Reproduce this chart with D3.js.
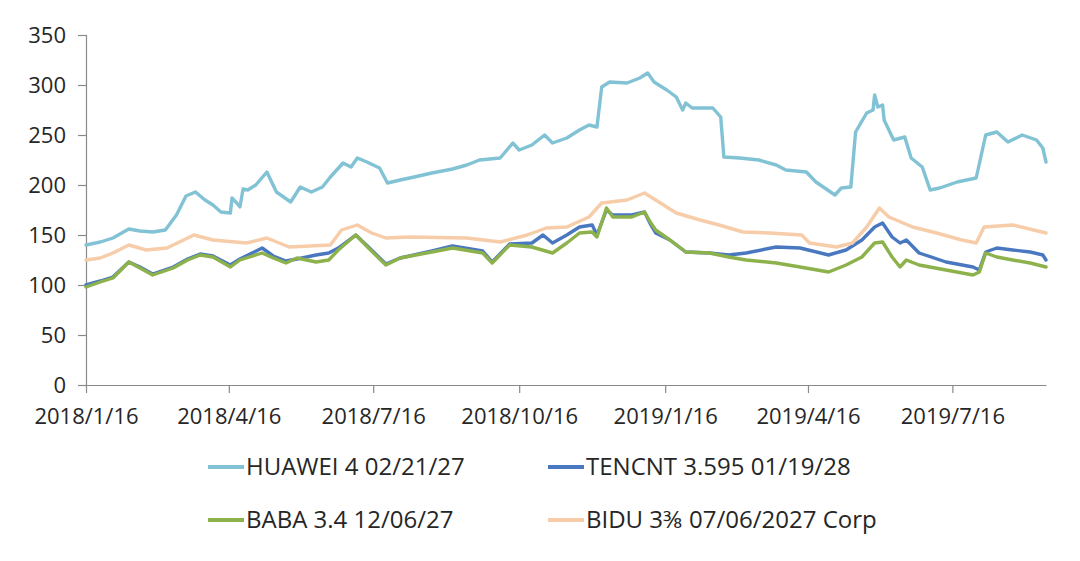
<!DOCTYPE html>
<html>
<head>
<meta charset="utf-8">
<script src="https://cdn.jsdelivr.net/npm/d3@7"></script>
<style>
  html, body { margin: 0; padding: 0; background: #ffffff; }
  svg { display: block; }
  text { font-family: "Open Sans", "DejaVu Sans", sans-serif; fill: #262626; }
</style>
</head>
<body>
<svg id="chart" width="1080" height="561"></svg>
<script>
// ---------- DATA ----------
const yTicks = [0, 50, 100, 150, 200, 250, 300, 350];
const xTickLabels = ["2018/1/16", "2018/4/16", "2018/7/16", "2018/10/16", "2019/1/16", "2019/4/16", "2019/7/16"];
const dateDomain = ["2018/1/16", "2019/9/13"];
const seriesNames = ["HUAWEI 4 02/21/27", "TENCNT 3.595 01/19/28", "BABA 3.4 12/06/27", "BIDU 3\u215C 07/06/2027 Corp"];

const huawei = [
  ["2018-01-16",140],["2018-01-25",143],["2018-02-02",147],["2018-02-12",156],["2018-02-19",154],
  ["2018-02-27",153],["2018-03-07",155],["2018-03-14",170],["2018-03-20",189],["2018-03-26",193],
  ["2018-04-01",185],["2018-04-06",180],["2018-04-11",173],["2018-04-17",172],["2018-04-18",187],
  ["2018-04-21",182],["2018-04-23",178],["2018-04-25",196],["2018-04-28",195],["2018-05-03",200],
  ["2018-05-10",213],["2018-05-16",193],["2018-05-25",183],["2018-05-31",198],["2018-06-07",193],
  ["2018-06-14",198],["2018-06-19",208],["2018-06-27",222],["2018-07-02",218],["2018-07-06",227],
  ["2018-07-12",223],["2018-07-20",217],["2018-07-25",202],["2018-08-02",205],["2018-08-08",207],
  ["2018-08-22",212],["2018-09-04",216],["2018-09-13",220],["2018-09-21",225],["2018-10-04",227],
  ["2018-10-12",242],["2018-10-16",235],["2018-10-24",240],["2018-11-01",250],["2018-11-06",242],
  ["2018-11-15",247],["2018-11-23",255],["2018-11-29",260],["2018-12-04",258],["2018-12-07",298],
  ["2018-12-12",303],["2018-12-23",302],["2018-12-31",307],["2019-01-05",312],["2019-01-09",303],
  ["2019-01-17",295],["2019-01-23",288],["2019-01-27",275],["2019-01-29",282],["2019-02-02",277],
  ["2019-02-15",277],["2019-02-20",268],["2019-02-22",228],["2019-03-04",227],["2019-03-16",225],
  ["2019-03-27",220],["2019-04-02",215],["2019-04-15",213],["2019-04-21",203],["2019-05-03",190],
  ["2019-05-07",197],["2019-05-13",198],["2019-05-16",253],["2019-05-23",272],["2019-05-27",275],
  ["2019-05-28",290],["2019-05-30",278],["2019-06-02",280],["2019-06-03",265],["2019-06-09",245],
  ["2019-06-16",248],["2019-06-20",227],["2019-06-27",218],["2019-07-02",195],["2019-07-08",197],
  ["2019-07-19",203],["2019-07-31",207],["2019-08-06",250],["2019-08-13",253],["2019-08-20",243],
  ["2019-08-29",250],["2019-09-07",245],["2019-09-11",237],["2019-09-13",223]
];

const tencnt = [
  ["2018-01-16",100],["2018-01-25",104],["2018-02-02",108],["2018-02-12",123],["2018-02-19",118],
  ["2018-02-27",111],["2018-03-12",118],["2018-03-21",126],["2018-03-29",131],["2018-04-06",129],
  ["2018-04-17",120],["2018-04-23",126],["2018-05-07",137],["2018-05-14",129],["2018-05-22",124],
  ["2018-05-29",126],["2018-06-10",130],["2018-06-18",132],["2018-06-24",137],["2018-07-05",150],
  ["2018-07-13",138],["2018-07-24",121],["2018-08-02",127],["2018-08-22",134],["2018-09-04",139],
  ["2018-09-23",134],["2018-09-29",123],["2018-10-10",141],["2018-10-24",142],["2018-10-31",150],
  ["2018-11-06",142],["2018-11-15",150],["2018-11-23",158],["2018-12-01",160],["2018-12-04",150],
  ["2018-12-10",175],["2018-12-14",170],["2018-12-26",170],["2019-01-03",173],["2019-01-07",160],
  ["2019-01-10",152],["2019-01-19",145],["2019-01-29",133],["2019-02-13",132],["2019-02-25",130],
  ["2019-03-08",132],["2019-03-27",138],["2019-04-11",137],["2019-04-29",130],["2019-05-10",135],
  ["2019-05-20",145],["2019-05-28",158],["2019-06-02",162],["2019-06-08",148],["2019-06-13",142],
  ["2019-06-17",145],["2019-06-25",132],["2019-07-12",123],["2019-07-29",118],["2019-08-02",115],
  ["2019-08-06",133],["2019-08-13",137],["2019-08-23",135],["2019-09-03",133],["2019-09-11",130],
  ["2019-09-13",125]
];

const baba = [
  ["2018-01-16",98],["2018-01-25",103],["2018-02-02",107],["2018-02-12",123],["2018-02-19",117],
  ["2018-02-27",110],["2018-03-12",117],["2018-03-21",125],["2018-03-29",130],["2018-04-06",128],
  ["2018-04-17",118],["2018-04-23",125],["2018-05-07",132],["2018-05-14",127],["2018-05-22",122],
  ["2018-05-29",127],["2018-06-10",123],["2018-06-18",125],["2018-06-24",135],["2018-07-05",150],
  ["2018-07-13",137],["2018-07-24",120],["2018-08-02",127],["2018-08-22",133],["2018-09-04",137],
  ["2018-09-23",132],["2018-09-29",122],["2018-10-10",140],["2018-10-24",138],["2018-11-06",132],
  ["2018-11-15",142],["2018-11-23",152],["2018-12-01",153],["2018-12-04",148],["2018-12-10",177],
  ["2018-12-14",168],["2018-12-26",168],["2019-01-03",173],["2019-01-07",162],["2019-01-10",155],
  ["2019-01-19",145],["2019-01-29",133],["2019-02-13",132],["2019-02-25",128],["2019-03-08",125],
  ["2019-03-27",122],["2019-04-11",118],["2019-04-29",113],["2019-05-10",120],["2019-05-20",128],
  ["2019-05-28",142],["2019-06-02",143],["2019-06-08",128],["2019-06-13",118],["2019-06-17",125],
  ["2019-06-25",120],["2019-07-12",115],["2019-07-29",110],["2019-08-02",113],["2019-08-06",132],
  ["2019-08-13",128],["2019-08-23",125],["2019-09-03",122],["2019-09-13",118]
];

const bidu = [
  ["2018-01-16",125],["2018-01-25",127],["2018-02-02",132],["2018-02-12",140],["2018-02-23",135],
  ["2018-03-08",137],["2018-03-25",150],["2018-04-06",145],["2018-04-27",142],["2018-05-10",147],
  ["2018-05-24",138],["2018-06-19",140],["2018-06-26",155],["2018-07-06",160],["2018-07-15",152],
  ["2018-07-24",147],["2018-08-08",148],["2018-09-13",147],["2018-10-04",143],["2018-10-21",150],
  ["2018-11-02",157],["2018-11-15",158],["2018-11-29",168],["2018-12-07",182],["2018-12-23",185],
  ["2019-01-03",192],["2019-01-10",185],["2019-01-23",172],["2019-02-07",165],["2019-02-19",160],
  ["2019-03-06",153],["2019-03-23",152],["2019-04-12",150],["2019-04-17",142],["2019-05-04",138],
  ["2019-05-14",142],["2019-05-23",158],["2019-05-31",177],["2019-06-06",168],["2019-06-21",158],
  ["2019-07-06",152],["2019-07-22",145],["2019-07-31",142],["2019-08-05",158],["2019-08-23",160],
  ["2019-09-13",152]
];

// ---------- STYLE ----------
const colors = ["#82c2d5", "#4a78c0", "#8db24c", "#f6cca9"];

// ---------- DRAW ----------
(function () {
  const svg = d3.select("#chart");
  const mLeft = 86, mRight = 1046, mTop = 35, mBottom = 385;
  const parseISO = d3.timeParse("%Y-%m-%d");
  const parseLbl = d3.timeParse("%Y/%m/%d");

  const x = d3.scaleTime()
    .domain(dateDomain.map(parseLbl))
    .range([mLeft, mRight]);
  const y = d3.scaleLinear()
    .domain([0, 350])
    .range([mBottom, mTop]);

  const axisColor = "#8a8a8a";

  const yAxis = svg.append("g")
    .attr("transform", `translate(${mLeft},0)`)
    .call(d3.axisLeft(y).tickValues(yTicks).tickSize(8).tickPadding(12).tickFormat(d3.format("d")));
  yAxis.select(".domain").attr("stroke", axisColor).attr("stroke-width", 1.2);
  yAxis.selectAll(".tick line").attr("stroke", axisColor).attr("stroke-width", 1.2);
  yAxis.selectAll(".tick text").attr("font-size", 22).attr("fill", "#262626")
    .attr("font-family", "'Open Sans', sans-serif");

  const xAxis = svg.append("g")
    .attr("transform", `translate(0,${mBottom})`)
    .call(d3.axisBottom(x)
      .tickValues(xTickLabels.map(parseLbl))
      .tickSize(8).tickSizeOuter(0).tickPadding(15)
      .tickFormat(d3.timeFormat("%Y/%-m/%-d")));
  xAxis.select(".domain").attr("stroke", axisColor).attr("stroke-width", 1.2);
  xAxis.selectAll(".tick line").attr("stroke", axisColor).attr("stroke-width", 1.2);
  xAxis.selectAll(".tick text").attr("font-size", 22).attr("fill", "#262626")
    .attr("font-family", "'Open Sans', sans-serif");

  const line = d3.line()
    .x(d => x(parseISO(d[0])))
    .y(d => y(d[1]));

  const allSeries = [huawei, tencnt, baba, bidu];
  [0, 1, 2, 3].forEach(i => {
    svg.append("path")
      .datum(allSeries[i])
      .attr("fill", "none")
      .attr("stroke", colors[i])
      .attr("stroke-width", 3.4)
      .attr("stroke-linejoin", "round")
      .attr("stroke-linecap", "round")
      .attr("d", line);
  });

  const legendPos = [[208, 467], [548, 467], [208, 520], [548, 520]];
  seriesNames.forEach((name, i) => {
    const [lx, ly] = legendPos[i];
    const g = svg.append("g").attr("transform", `translate(${lx},${ly})`);
    g.append("line").attr("x1", 0).attr("x2", 36).attr("y1", 0).attr("y2", 0)
      .attr("stroke", colors[i]).attr("stroke-width", 4);
    g.append("text").attr("x", 38).attr("y", 0).attr("dy", "0.35em")
      .attr("font-size", 24).attr("fill", "#262626").text(name);
  });
})();
</script>
</body>
</html>
